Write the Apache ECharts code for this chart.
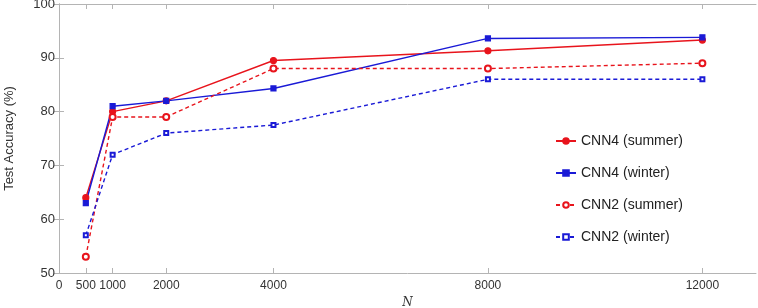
<!DOCTYPE html>
<html>
<head>
<meta charset="utf-8">
<script src="https://cdn.jsdelivr.net/npm/echarts@6/dist/echarts.min.js"></script>
<style>
  html, body { margin: 0; padding: 0; background: #fff; }
  #main { width: 758px; height: 308px; }
</style>
</head>
<body>
<div id="main"></div>
<script>
// training set sizes
var sizes = [500, 1000, 2000, 4000, 8000, 12000];
var xLabels = [0, 500, 1000, 2000, 4000, 8000, 12000];

// test accuracy (%)
var cnn4Summer = [64, 80, 82, 89.5, 91.3, 93.3];
var cnn4Winter = [63, 81, 82, 84.3, 93.6, 93.8];
var cnn2Summer = [53, 79, 79, 88, 88, 89];
var cnn2Winter = [57, 72, 76, 77.5, 86, 86];

var RED = '#e8141c';
var BLUE = '#1a1ad6';
var AXIS = '#b4b4b4';

function pairs(vals) {
    var out = [];
    for (var i = 0; i < sizes.length; i++) {
        out.push([sizes[i], vals[i]]);
    }
    return out;
}

//一条折线
function makeSeries(name, vals, color, dashed, symbol, size) {
    return {
        name: name,
        type: 'line',
        data: pairs(vals),
        symbol: symbol,
        symbolSize: size,
        showSymbol: true,
        lineStyle: {
            color: color,
            width: 1.4,
            type: dashed ? [4, 3] : 'solid'
        },
        itemStyle: {
            color: color,
            borderColor: color,
            borderWidth: 1.2
        },
        emphasis: { disabled: true },
        animation: false
    };
}

var chart = echarts.init(document.getElementById('main'));
var option = {
    backgroundColor: '#fff',
    textStyle: { fontFamily: 'Liberation Sans, Arial' },
    grid: { left: 59, top: 4, right: 2, bottom: 35, outerBoundsMode: 'none', containLabel: false },
    legend: {
        orient: 'vertical',
        left: 550,
        top: 129,
        itemGap: 18,
        itemWidth: 20,
        itemHeight: 7,
        textStyle: { fontSize: 14, color: '#222' },
        data: ['CNN4 (summer)', 'CNN4 (winter)', 'CNN2 (summer)', 'CNN2 (winter)']
    },
    xAxis: [
        {
            type: 'value',
            min: 0,
            max: 13000,
            name: 'N',
            nameLocation: 'middle',
            nameGap: 24,
            nameTextStyle: { fontStyle: 'italic', fontFamily: 'DejaVu Serif', fontSize: 12, color: '#333' },
            axisLine: { show: true, lineStyle: { color: AXIS } },
            axisTick: { show: true, inside: true, length: 5, lineStyle: { color: AXIS }, customValues: sizes },
            axisLabel: {
                color: '#333', fontSize: 12, margin: 7, customValues: xLabels,
                formatter: function (v) { return String(v); }
            },
            splitLine: { show: false }
        },
        {
            type: 'value',
            position: 'top',
            min: 0,
            max: 13000,
            axisLine: { show: true, lineStyle: { color: AXIS } },
            axisTick: { show: true, inside: true, length: 5, lineStyle: { color: AXIS }, customValues: sizes },
            axisLabel: { show: false },
            splitLine: { show: false }
        }
    ],
    yAxis: [
        {
            type: 'value',
            min: 50,
            max: 100,
            interval: 10,
            name: 'Test Accuracy (%)',
            nameLocation: 'middle',
            nameGap: 43,
            nameTextStyle: { fontSize: 13, color: '#333' },
            axisLine: { show: true, lineStyle: { color: AXIS } },
            axisTick: { show: true, inside: true, length: 5, lineStyle: { color: AXIS } },
            axisLabel: { color: '#333', fontSize: 13, margin: 4 },
            splitLine: { show: false }
        },
        {
            type: 'value',
            position: 'right',
            min: 50,
            max: 100,
            interval: 10,
            axisLine: { show: true, lineStyle: { color: AXIS } },
            axisTick: { show: true, inside: true, length: 5, lineStyle: { color: AXIS } },
            axisLabel: { show: false },
            splitLine: { show: false }
        }
    ],
    series: [
        makeSeries('CNN4 (summer)', cnn4Summer, RED, false, 'circle', 6),
        makeSeries('CNN4 (winter)', cnn4Winter, BLUE, false, 'rect', 5),
        makeSeries('CNN2 (summer)', cnn2Summer, RED, true, 'emptyCircle', 6),
        makeSeries('CNN2 (winter)', cnn2Winter, BLUE, true, 'emptyRect', 4)
    ]
};
chart.setOption(option);
</script>
</body>
</html>
